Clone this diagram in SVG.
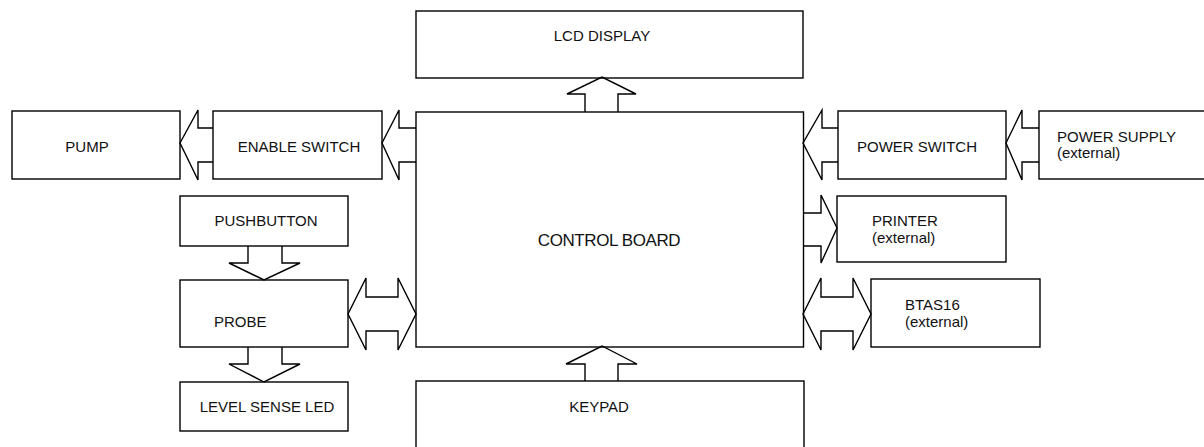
<svg xmlns="http://www.w3.org/2000/svg" width="1204" height="447" viewBox="0 0 1204 447">
<style>
.box{fill:#fff;stroke:#000;stroke-width:1.4}
.arr{fill:none;stroke:#000;stroke-width:1.4;stroke-linejoin:miter}
text{font-family:"Liberation Sans",Arial,sans-serif;font-size:15px;fill:#111}
.c{text-anchor:middle}
</style>
<rect width="1204" height="447" fill="#fff"/>
<g id="lcd"><rect class="box" x="416" y="11" width="387" height="67"/><text class="c" x="602" y="41">LCD DISPLAY</text></g>
<g id="control"><rect class="box" x="416" y="112" width="387.5" height="235"/><text class="c" x="609" y="246" style="font-size:17px;letter-spacing:-0.4px">CONTROL BOARD</text></g>
<g id="keypad"><rect class="box" x="416" y="381" width="388" height="80"/><text class="c" x="599" y="412">KEYPAD</text></g>
<g id="pump"><rect class="box" x="12" y="111" width="168" height="68"/><text class="c" x="87" y="152">PUMP</text></g>
<g id="enable"><rect class="box" x="213" y="111" width="169" height="68"/><text class="c" x="299" y="152">ENABLE SWITCH</text></g>
<g id="powerswitch"><rect class="box" x="838" y="111" width="168" height="68"/><text class="c" x="917" y="152">POWER SWITCH</text></g>
<g id="powersupply"><rect class="box" x="1039" y="111" width="180" height="68"/><text x="1057" y="142">POWER SUPPLY</text><text x="1057" y="158">(external)</text></g>
<g id="pushbutton"><rect class="box" x="180" y="196" width="168" height="50"/><text class="c" x="266" y="226">PUSHBUTTON</text></g>
<g id="probe"><rect class="box" x="180" y="280" width="168" height="67"/><text x="214" y="327">PROBE</text></g>
<g id="level"><rect class="box" x="180" y="382" width="168" height="49"/><text class="c" x="267" y="412">LEVEL SENSE LED</text></g>
<g id="printer"><rect class="box" x="837" y="196" width="169" height="66"/><text x="872" y="226">PRINTER</text><text x="872" y="243">(external)</text></g>
<g id="btas"><rect class="box" x="871" y="279" width="169" height="68"/><text x="905" y="310">BTAS16</text><text x="905" y="327">(external)</text></g>
<g id="connectors">
<polyline class="arr" points="585,112 585,94 567,94 602,77 636,94 618,94 618,112"/>
<polyline class="arr" points="585,381 585,364 566,364 602,346 637,364 618,364 618,381"/>
<polyline class="arr" points="416,128 399,128 399,110 382,143 399,180 399,162 416,162"/>
<polyline class="arr" points="213,128 198,128 198,110 180,143 198,180 198,162 213,162"/>
<polyline class="arr" points="838,128 822,128 822,110 803,143 822,180 822,162 838,162"/>
<polyline class="arr" points="1039,128 1022,128 1022,110 1006,143 1022,180 1022,162 1039,162"/>
<polyline class="arr" points="803,213 821,213 821,195 837,228 821,263 821,246 803,246"/>
<polyline class="arr" points="248,246 248,263 229,263 264,280 300,263 282,263 282,246"/>
<polyline class="arr" points="248,347 248,364 229,364 264,382 300,364 282,364 282,347"/>
<polygon class="arr" points="366,297 366,278 348,314 366,350 366,331 398,331 398,350 416,314 398,278 398,297"/>
<polygon class="arr" points="821,297 821,278 803,314 821,350 821,331 853,331 853,350 871,314 853,278 853,297"/>
</g>
</svg>
